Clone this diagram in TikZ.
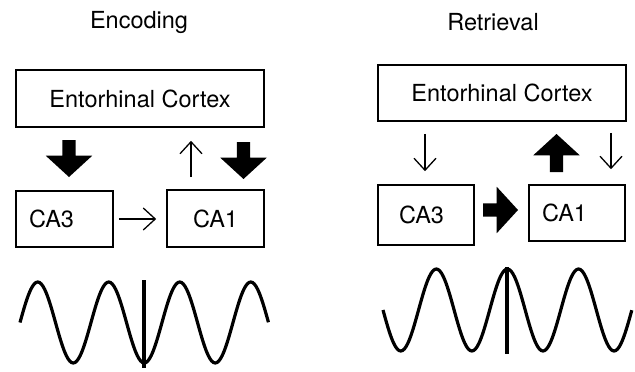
\documentclass[tikz,border=0pt]{standalone}
\usepackage{fontspec}
\setmainfont{TeX Gyre Heros}
\usepackage{xcolor}
\usepackage{tikz}
\usetikzlibrary{arrows.meta}
\usetikzlibrary{shapes.arrows}
\tikzstyle{Title}=[font=\fontsize{23.5}{27}\selectfont]
\tikzstyle{Box}=[draw,line width=1.6pt,align=left,
font=\fontsize{23.5}{27}\selectfont]
\tikzstyle{SmallArrow}=[line width=1.3pt,
-{Straight Barb[length=12pt,width=22pt]}]
\tikzstyle{BigArrow}=[single arrow,fill=black,draw=none,anchor=tail,
inner xsep=0pt,inner ysep=6.5pt,outer sep=0pt,minimum height=37pt,
minimum width=46pt,single arrow head extend=16.5pt,
single arrow tip angle=95]
\tikzstyle{Wave}=[line width=3.2pt,line join=round]
\tikzstyle{Marker}=[line width=4pt]

\begin{document}
\begin{tikzpicture}[x=1pt,y=-1pt]
        \useasboundingbox(0,0)rectangle(635,372);
        \node[Title](t1)at(139,22){Encoding};
        \node[Title](t2)at(493,22){Retrieval};
        \node[Box,minimum width=248pt,minimum height=57pt](ec1)
            at(140,98.5){Entorhinal Cortex};
        \node[Box,minimum height=56pt,inner xsep=13pt,text width=71pt](ca31)
            at(64.5,219){CA3};
        \node[Box,minimum height=57pt,inner xsep=26pt,text width=45pt](ca11)
            at(215.5,218.5){CA1};
        \node[Box,minimum width=248pt,minimum height=56pt](ec2)
            at(502,93){Entorhinal Cortex};
        \node[Box,minimum height=60pt,inner xsep=21pt,text width=54pt](ca32)
            at(426,215){CA3};
        \node[Box,minimum height=56pt,inner xsep=13pt,text width=70pt](ca12)
            at(577,213){CA1};
        \node[BigArrow,rotate=-90](b1)at(69,140){};
        \node[BigArrow,rotate=-90](b2)at(243.5,142){};
        \node[BigArrow,rotate=90,minimum height=38pt](b3)at(556.5,172){};
        \node[BigArrow,minimum height=35pt](b4)at(483,210){};
        \draw[SmallArrow,shorten <=12pt,shorten >=13pt]
            (ca11.north-|191,0)--(ec1.south-|191,0);
        \draw[SmallArrow,shorten <=5pt,shorten >=10pt]
            (ca31.east|-0,219)--(ca11.west|-0,219);
        \draw[SmallArrow,shorten <=12pt,shorten >=13pt]
            (ec2.south-|425,0)--(ca32.north-|425,0);
        \draw[SmallArrow,shorten <=11pt,shorten >=15pt]
            (ec2.south-|611,0)--(ca12.north-|611,0);
        \draw[Wave]plot[domain=0:3.5,samples=141,smooth]
            ({20+71*\x},{322.5-40.5*sin(360*\x)});
        \draw[Marker](144.25,280)--(144.25,368);
        \draw[Wave]plot[domain=0:3.5,samples=141,smooth]
            ({383+71.1*\x},{310+41*sin(360*\x)});
        \draw[Marker](507.4,267)--(507.4,354);
    \end{tikzpicture}
\end{document}
